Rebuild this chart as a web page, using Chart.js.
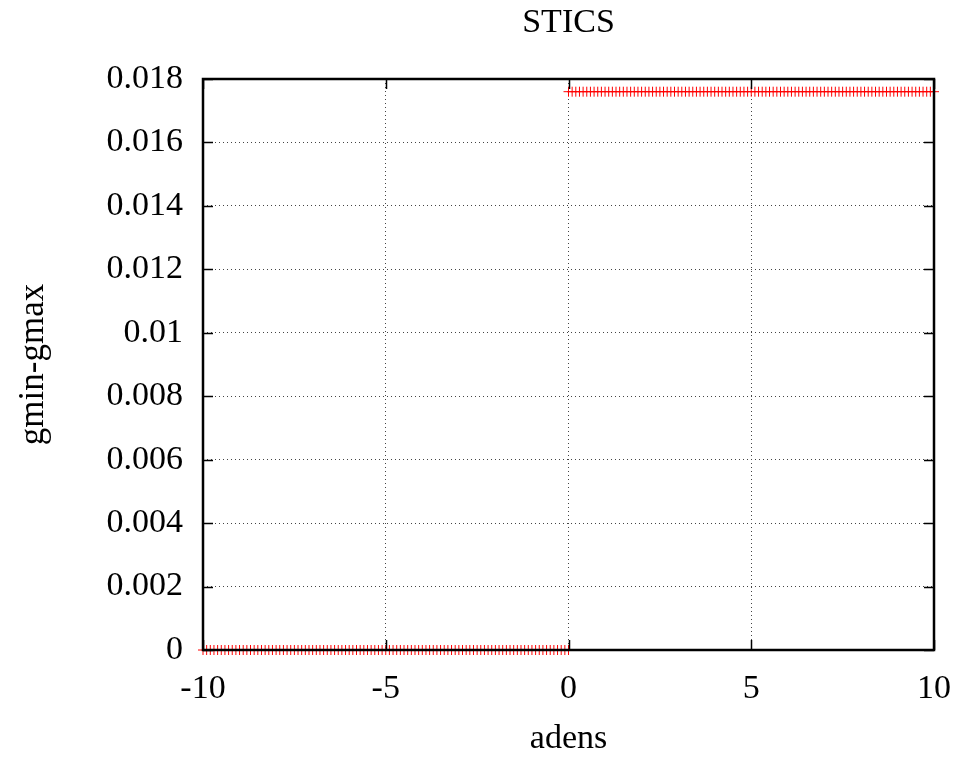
<!DOCTYPE html>
<html>
<head>
<meta charset="utf-8">
<script src="https://cdn.jsdelivr.net/npm/chart.js@4"></script>
<style>
  html, body { margin: 0; padding: 0; background: #fff; }
  #wrap { width: 958px; height: 759px; }
</style>
</head>
<body>
<div id="wrap"><canvas id="chart" width="958" height="759"></canvas></div>
<script>
const chartTitle = "STICS";
const xLabel = "adens";
const yLabel = "gmin-gmax";

// sampled adens values, negative side and positive side
const xLow = [-10,-9.9,-9.8,-9.7,-9.6,-9.5,-9.4,-9.3,-9.2,-9.1,-9,-8.9,-8.8,-8.7,-8.6,-8.5,-8.4,-8.3,-8.2,-8.1,
  -8,-7.9,-7.8,-7.7,-7.6,-7.5,-7.4,-7.3,-7.2,-7.1,-7,-6.9,-6.8,-6.7,-6.6,-6.5,-6.4,-6.3,-6.2,-6.1,
  -6,-5.9,-5.8,-5.7,-5.6,-5.5,-5.4,-5.3,-5.2,-5.1,-5,-4.9,-4.8,-4.7,-4.6,-4.5,-4.4,-4.3,-4.2,-4.1,
  -4,-3.9,-3.8,-3.7,-3.6,-3.5,-3.4,-3.3,-3.2,-3.1,-3,-2.9,-2.8,-2.7,-2.6,-2.5,-2.4,-2.3,-2.2,-2.1,
  -2,-1.9,-1.8,-1.7,-1.6,-1.5,-1.4,-1.3,-1.2,-1.1,-1,-0.9,-0.8,-0.7,-0.6,-0.5,-0.4,-0.3,-0.2,-0.1,0];
const yLow = [0,0,0,0,0,0,0,0,0,0,0,0,0,0,0,0,0,0,0,0,
  0,0,0,0,0,0,0,0,0,0,0,0,0,0,0,0,0,0,0,0,
  0,0,0,0,0,0,0,0,0,0,0,0,0,0,0,0,0,0,0,0,
  0,0,0,0,0,0,0,0,0,0,0,0,0,0,0,0,0,0,0,0,
  0,0,0,0,0,0,0,0,0,0,0,0,0,0,0,0,0,0,0,0,0];

const xHigh = [0,0.1,0.2,0.3,0.4,0.5,0.6,0.7,0.8,0.9,1,1.1,1.2,1.3,1.4,1.5,1.6,1.7,1.8,1.9,
  2,2.1,2.2,2.3,2.4,2.5,2.6,2.7,2.8,2.9,3,3.1,3.2,3.3,3.4,3.5,3.6,3.7,3.8,3.9,
  4,4.1,4.2,4.3,4.4,4.5,4.6,4.7,4.8,4.9,5,5.1,5.2,5.3,5.4,5.5,5.6,5.7,5.8,5.9,
  6,6.1,6.2,6.3,6.4,6.5,6.6,6.7,6.8,6.9,7,7.1,7.2,7.3,7.4,7.5,7.6,7.7,7.8,7.9,
  8,8.1,8.2,8.3,8.4,8.5,8.6,8.7,8.8,8.9,9,9.1,9.2,9.3,9.4,9.5,9.6,9.7,9.8,9.9,10];
const yHigh = [0.0176,0.0176,0.0176,0.0176,0.0176,0.0176,0.0176,0.0176,0.0176,0.0176,0.0176,0.0176,0.0176,0.0176,0.0176,0.0176,0.0176,0.0176,0.0176,0.0176,
  0.0176,0.0176,0.0176,0.0176,0.0176,0.0176,0.0176,0.0176,0.0176,0.0176,0.0176,0.0176,0.0176,0.0176,0.0176,0.0176,0.0176,0.0176,0.0176,0.0176,
  0.0176,0.0176,0.0176,0.0176,0.0176,0.0176,0.0176,0.0176,0.0176,0.0176,0.0176,0.0176,0.0176,0.0176,0.0176,0.0176,0.0176,0.0176,0.0176,0.0176,
  0.0176,0.0176,0.0176,0.0176,0.0176,0.0176,0.0176,0.0176,0.0176,0.0176,0.0176,0.0176,0.0176,0.0176,0.0176,0.0176,0.0176,0.0176,0.0176,0.0176,
  0.0176,0.0176,0.0176,0.0176,0.0176,0.0176,0.0176,0.0176,0.0176,0.0176,0.0176,0.0176,0.0176,0.0176,0.0176,0.0176,0.0176,0.0176,0.0176,0.0176,0.0176];

const xTicks = [-10, -5, 0, 5, 10];
const yTicks = [0, 0.002, 0.004, 0.006, 0.008, 0.01, 0.012, 0.014, 0.016, 0.018];

const fontFamily = "'Liberation Serif', 'Times New Roman', serif";
const fontSize = 34;

function toPoints(xs, ys) {
  return xs.map((x, i) => ({x: x, y: ys[i]}));
}

// gnuplot-like frame with inward ticks on all four sides, title over the plot
const framePlugin = {
  id: 'frame',
  afterDatasetsDraw(chart) {
    const ctx = chart.ctx;
    const a = chart.chartArea;
    const xs = chart.scales.x, ys = chart.scales.y;
    ctx.save();
    ctx.strokeStyle = '#000';
    ctx.lineWidth = 1.5;
    const t = 10;
    ctx.beginPath();
    xTicks.forEach(v => {
      const px = Math.round(xs.getPixelForValue(v)) + 0.5;
      ctx.moveTo(px, a.bottom); ctx.lineTo(px, a.bottom - t);
      ctx.moveTo(px, a.top); ctx.lineTo(px, a.top + t);
    });
    yTicks.forEach(v => {
      const py = Math.round(ys.getPixelForValue(v)) + 0.5;
      ctx.moveTo(a.left, py); ctx.lineTo(a.left + t, py);
      ctx.moveTo(a.right, py); ctx.lineTo(a.right - t, py);
    });
    ctx.stroke();
    ctx.lineWidth = 2.5;
    ctx.strokeRect(a.left, a.top, a.right - a.left, a.bottom - a.top);

    ctx.fillStyle = '#000';
    ctx.font = fontSize + 'px ' + fontFamily;
    ctx.textAlign = 'center';
    ctx.textBaseline = 'middle';
    ctx.fillText(chartTitle, (a.left + a.right) / 2, 23);
    ctx.restore();
  }
};

const ctx = document.getElementById('chart').getContext('2d');
new Chart(ctx, {
  type: 'scatter',
  data: {
    datasets: [
      {
        label: 'low',
        data: toPoints(xLow, yLow),
        pointStyle: 'cross',
        pointRadius: 5,
        borderColor: 'rgba(255,0,0,1)',
        backgroundColor: 'rgba(255,0,0,1)',
        borderWidth: 1,
        clip: false
      },
      {
        label: 'high',
        data: toPoints(xHigh, yHigh),
        pointStyle: 'cross',
        pointRadius: 5,
        borderColor: 'rgba(255,0,0,1)',
        backgroundColor: 'rgba(255,0,0,1)',
        borderWidth: 1,
        clip: false
      }
    ]
  },
  plugins: [framePlugin],
  options: {
    responsive: false,
    animation: false,
    layout: { padding: { top: 79, right: 24, bottom: 0, left: 0 } },
    plugins: {
      legend: { display: false },
      tooltip: { enabled: false },
      title: { display: false }
    },
    scales: {
      x: {
        type: 'linear',
        min: -10,
        max: 10,
        afterBuildTicks(scale) { scale.ticks = xTicks.map(v => ({value: v})); },
        afterFit(scale) {
          scale.height = 109;
          scale.paddingLeft = 0;
          scale.paddingRight = 0;
        },
        ticks: {
          color: '#000',
          font: { family: fontFamily, size: fontSize },
          padding: 19
        },
        grid: {
          color: '#444',
          lineWidth: 1,
          drawTicks: false,
          tickLength: 0
        },
        border: { display: false, dash: [1, 3] },
        title: {
          display: true,
          text: xLabel,
          color: '#000',
          font: { family: fontFamily, size: fontSize },
          padding: { top: 0, bottom: 0 }
        }
      },
      y: {
        type: 'linear',
        min: 0,
        max: 0.018,
        afterBuildTicks(scale) { scale.ticks = yTicks.map(v => ({value: v})); },
        afterFit(scale) {
          scale.width = 203;
          scale.paddingTop = 0;
          scale.paddingBottom = 0;
        },
        ticks: {
          color: '#000',
          font: { family: fontFamily, size: fontSize },
          padding: 20,
          callback: v => String(+v.toFixed(3))
        },
        grid: {
          color: '#444',
          lineWidth: 1,
          drawTicks: false,
          tickLength: 0
        },
        border: { display: false, dash: [1, 3] },
        title: {
          display: true,
          text: yLabel,
          color: '#000',
          font: { family: fontFamily, size: 35 },
          padding: { top: 13, bottom: 0 }
        }
      }
    }
  }
});
</script>
</body>
</html>
